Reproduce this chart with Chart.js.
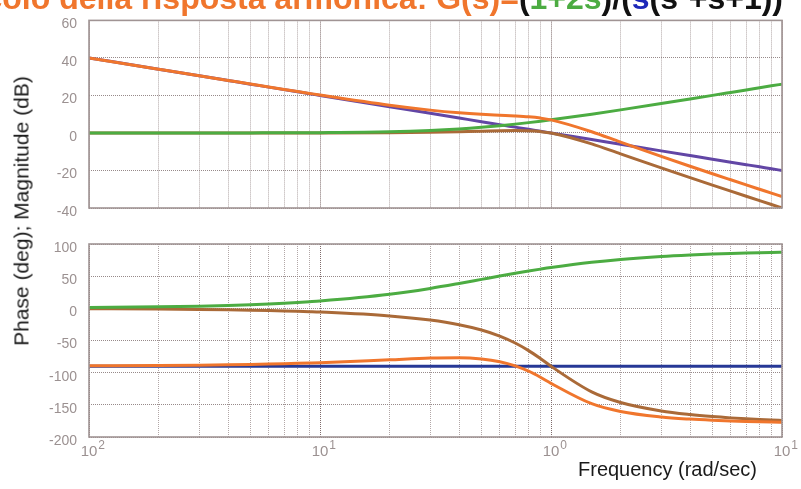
<!DOCTYPE html>
<html><head><meta charset="utf-8">
<script src="https://cdn.jsdelivr.net/npm/chart.js@4.4.1/dist/chart.umd.min.js"></script>
<style>
html,body{margin:0;padding:0;background:#fff;width:801px;height:489px;overflow:hidden;position:relative;font-family:"Liberation Sans",Arial,sans-serif}
#c1{position:absolute;left:0;top:0}
#c2{position:absolute;left:0;top:220px}
#ylab{position:absolute;left:21px;top:211px;transform:translate(-50%,-50%) rotate(-90deg);font-size:21px;white-space:nowrap;color:#1a1a1a;line-height:1}
#xlab{position:absolute;left:578px;top:459px;font-size:20px;color:#1a1a1a;white-space:nowrap;line-height:1}
</style></head><body>
<canvas id="c1" width="801" height="230"></canvas>
<canvas id="c2" width="801" height="269"></canvas>
<div id="ylab">Phase (deg); Magnitude (dB)</div>
<div id="xlab">Frequency (rad/sec)</div>
<script>
// Frequencies (rad/sec)
const freq = [0.01,0.02,0.03,0.04,0.05,0.06,0.07,0.08,0.09,0.1,0.2,0.3,0.4,0.5,0.6,0.7,0.8,0.9,1,1.5,2,3,4,5,6,7,8,9,10];
// Magnitude (dB)
const magIntegrator = [40,33.98,30.46,27.96,26.02,24.44,23.10,21.94,20.92,20,13.98,10.46,7.96,6.02,4.44,3.10,1.94,0.92,0,-3.52,-6.02,-9.54,-12.04,-13.98,-15.56,-16.90,-18.06,-19.08,-20];
const magZero = [0,0.01,0.02,0.03,0.04,0.06,0.08,0.11,0.14,0.17,0.64,1.34,2.15,3.01,3.87,4.71,5.51,6.27,6.99,10.00,12.30,15.68,18.13,20.04,21.61,22.94,24.10,25.12,26.03];
const magQuad = [0,0,0,0.01,0.01,0.02,0.02,0.03,0.04,0.04,0.17,0.37,0.63,0.90,1.14,1.25,1.14,0.73,0,-5.81,-11.14,-18.63,-23.82,-27.79,-31.01,-33.72,-36.06,-38.12,-39.96];
const magTotal = [40,33.99,30.48,28.00,26.07,24.52,23.21,22.08,21.09,20.21,14.79,12.17,10.74,9.93,9.45,9.06,8.59,7.92,6.99,0.67,-4.86,-12.49,-17.73,-21.73,-24.96,-27.68,-30.02,-32.08,-33.93];
// Phase (deg)
const phaseIntegrator = [-90,-90,-90,-90,-90,-90,-90,-90,-90,-90,-90,-90,-90,-90,-90,-90,-90,-90,-90,-90,-90,-90,-90,-90,-90,-90,-90,-90,-90];
const phaseZero = [1.15,2.29,3.43,4.57,5.71,6.84,7.97,9.09,10.20,11.31,21.80,30.96,38.66,45,50.19,54.46,57.99,60.95,63.43,71.57,75.96,80.54,82.87,84.29,85.24,85.91,86.42,86.82,87.14];
const phaseQuad = [-0.57,-1.15,-1.72,-2.29,-2.87,-3.45,-4.02,-4.60,-5.18,-5.77,-11.77,-18.25,-25.46,-33.69,-43.15,-53.93,-65.77,-78.08,-90,-129.81,-146.31,-159.44,-165.07,-168.23,-170.27,-171.70,-172.76,-173.58,-174.23];
const phaseTotal = [-89.42,-88.86,-88.29,-87.72,-87.16,-86.61,-86.05,-85.51,-84.98,-84.46,-79.97,-77.29,-76.80,-78.69,-82.96,-89.47,-97.78,-107.13,-116.57,-148.24,-160.35,-168.90,-172.20,-173.94,-175.03,-175.79,-176.34,-176.76,-177.09];
// Axis ticks
const decades = [0.01,0.1,1,10];
const decadeExpLabels = ['2','1','0','1'];
const magTicks = {min:-40,max:60,step:20};
const phaseTicks = {min:-200,max:100,step:50};

const C = {orange:'rgb(240,118,45)', green:'rgb(76,172,66)', brown:'rgb(170,106,56)', purple:'rgb(98,70,165)', blue:'rgb(38,56,150)'};
const gridVals = [];
decades.slice(0,3).forEach(d=>{for(let m=1;m<10;m++) gridVals.push(+(d*m).toPrecision(3));});
gridVals.push(10);
const isMajor = v => Math.abs(Math.log10(v)-Math.round(Math.log10(v)))<1e-9;

const pts = arr => freq.map((f,i)=>({x:f,y:arr[i]}));
const ds = (arr,col) => ({data:pts(arr),borderColor:col,borderWidth:3,pointRadius:0,fill:false,cubicInterpolationMode:'monotone'});

const frame = {id:'frame',afterDraw(ch){const a=ch.chartArea,c=ch.ctx;c.save();c.strokeStyle='rgb(160,148,148)';c.lineWidth=1.6;c.strokeRect(a.left,a.top,a.right-a.left,a.bottom-a.top);c.restore();}};

const title = {id:'ttl',afterDraw(ch){
  const c=ch.ctx; c.save(); c.font='bold 32px "Liberation Sans", Arial, sans-serif'; c.textBaseline='alphabetic';
  const segs=[['Calcolo della risposta armonica: G(s)=',C.orange],['(','#111'],['1+2s',C.green],[')/(','#111'],['s','rgb(30,40,185)'],['(s\u00B2+s+1))','#111']];
  let total=0; segs.forEach(s=>total+=c.measureText(s[0]).width);
  let x=783-total;
  segs.forEach(s=>{c.fillStyle=s[1];c.fillText(s[0],x,9);x+=c.measureText(s[0]).width;});
  c.restore();}};

const xLabels = {id:'xl',afterDraw(ch){
  const c=ch.ctx,sx=ch.scales.x,a=ch.chartArea; c.save(); c.fillStyle='rgb(155,145,145)';
  decades.forEach((d,i)=>{
    const px=sx.getPixelForValue(d);
    c.font='15px "Liberation Sans", Arial, sans-serif'; c.textAlign='center'; c.textBaseline='middle';
    c.fillText('10',px,a.bottom+15);
    const w=c.measureText('10').width;
    c.font='12px "Liberation Sans", Arial, sans-serif'; c.textAlign='left';
    c.fillText(decadeExpLabels[i],px+w/2+1,a.bottom+9);
  });
  c.restore();}};

function xScale(){
  return {type:'logarithmic',min:0.01,max:10,
    afterBuildTicks:s=>{s.ticks=gridVals.map(v=>({value:v,major:isMajor(v)}));},
    afterFit:s=>{s.height=0;},
    ticks:{display:false},
    grid:{drawTicks:false,lineWidth:1,color:ctx=>(ctx.tick&&isMajor(ctx.tick.value))?'rgba(120,100,100,0.95)':'rgba(165,152,152,0.85)'},
    border:{display:false,dash:[1,1]}};
}
function yScale(t){
  return {type:'linear',min:t.min,max:t.max,
    afterFit:s=>{s.width=89;},
    ticks:{stepSize:t.step,padding:12,labelOffset:4,color:'rgb(155,145,145)',font:{family:'"Liberation Sans", Arial, sans-serif',size:14}},
    grid:{drawTicks:false,lineWidth:1,color:'rgba(140,125,125,0.9)'},
    border:{display:false,dash:[1,1]}};
}
const common = {responsive:false,animation:false,events:[],plugins:{legend:{display:false},tooltip:{enabled:false}}};

new Chart(document.getElementById('c1'),{type:'line',
  data:{datasets:[ds(magTotal,C.orange),ds(magZero,C.green),ds(magQuad,C.brown),ds(magIntegrator,C.purple)]},
  options:Object.assign({},common,{layout:{padding:{left:0,right:19,top:13,bottom:22}},scales:{x:xScale(),y:yScale(magTicks)}}),
  plugins:[frame,title]});

new Chart(document.getElementById('c2'),{type:'line',
  data:{datasets:[ds(phaseTotal,C.orange),ds(phaseZero,C.green),ds(phaseQuad,C.brown),ds(phaseIntegrator,C.blue)]},
  options:Object.assign({},common,{layout:{padding:{left:0,right:19,top:24,bottom:52}},scales:{x:xScale(),y:yScale(phaseTicks)}}),
  plugins:[frame,xLabels]});
</script>
</body></html>
